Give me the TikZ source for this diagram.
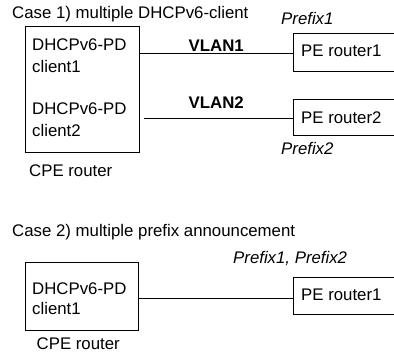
\documentclass[tikz,border=0pt]{standalone}
\usepackage{fontspec}
\setmainfont{Liberation Sans}
\begin{document}
\begin{tikzpicture}[
  x=1pt, y=-1pt,
  font=\fontsize{16.8}{21}\selectfont,
  box/.style={draw, line width=1pt, inner sep=0pt, anchor=north west},
  lbl/.style={anchor=base west, inner sep=0pt},
  vlan/.style={lbl, font=\fontsize{16.8}{21}\selectfont\bfseries},
  pfx/.style={lbl, font=\fontsize{16.8}{21}\selectfont\itshape},
  link/.style={line width=0.8pt}
]
\useasboundingbox (0,0) rectangle (394,355);
\clip (0,0) rectangle (394,355);

% ---- Case 1: two DHCPv6-PD clients on separate VLANs ----
\node[lbl] (title1) at (12,19) {Case 1) multiple DHCPv6-client};

\node[box, minimum width=113.5pt, minimum height=125.3pt] (cpeA) at (25,26.5) {};
\node[lbl] (cpeAa) at (32,51) {DHCPv6-PD};
\node[lbl] (cpeAb) at (32,73) {client1};
\node[lbl] (cpeAc) at (32,115) {DHCPv6-PD};
\node[lbl] (cpeAd) at (32,136.5) {client2};
\node[lbl] (cpeAlbl) at (29,177) {CPE router};

\node[box, minimum width=120pt, minimum height=37.4pt] (peA) at (293.3,33.3) {};
\node[lbl] (peAtxt) at (301,56.7) {PE router1};
\node[box, minimum width=120pt, minimum height=35.7pt] (peB) at (293.3,99.3) {};
\node[lbl] (peBtxt) at (301,123.3) {PE router2};

\node[vlan] (vlan1) at (188.5,51.5) {VLAN1};
\node[vlan] (vlan2) at (188.5,109) {VLAN2};
\node[pfx] (pfx1) at (281,25) {Prefix1};
\node[pfx] (pfx2) at (281,155) {Prefix2};

\draw[link] ([yshift=-1.3pt]peA.west -| cpeA.east) -- ([yshift=-1.3pt]peA.west);
\draw[link] ([xshift=4.5pt,yshift=-1.2pt]peB.west -| cpeA.east) -- ([yshift=-1.2pt]peB.west);

% ---- Case 2: one client, several prefixes ----
\node[lbl] (title2) at (12,236.7) {Case 2) multiple prefix announcement};

\node[box, minimum width=113.3pt, minimum height=68.3pt] (cpeB) at (25,261.7) {};
\node[lbl] (cpeBa) at (32,295) {DHCPv6-PD};
\node[lbl] (cpeBb) at (32,315) {client1};
\node[lbl] (cpeBlbl) at (36.5,350) {CPE router};

\node[box, minimum width=120pt, minimum height=37.6pt] (peC) at (292.7,276.7) {};
\node[lbl] (peCtxt) at (301,300.7) {PE router1};
\node[pfx] (pfx12) at (233,263.3) {Prefix1, Prefix2};

\draw[link] ([yshift=-2pt]peC.west -| cpeB.east) -- ([yshift=-2pt]peC.west);
\end{tikzpicture}
\end{document}
